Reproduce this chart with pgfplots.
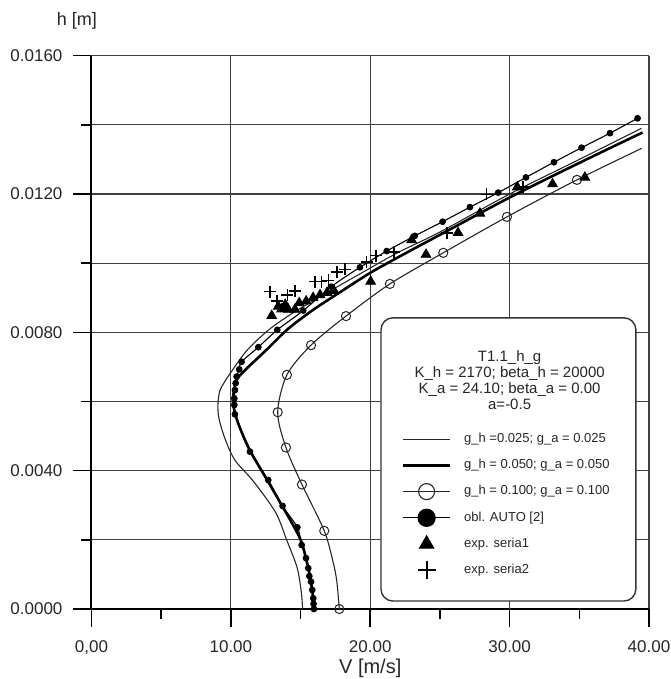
\documentclass[border=0pt]{standalone}
\usepackage{pgfplots}
\pgfplotsset{compat=1.18}
\usepackage{fontspec}
\setmainfont{Liberation Sans}
\begin{document}
\begin{tikzpicture}
\path[use as bounding box] (-45.75pt,-35pt) rectangle (289.25pt,304.5pt);
\begin{axis}[
 width=278.75pt, height=276.65pt, scale only axis,
 xmin=0, xmax=40, ymin=0, ymax=0.016,
 axis lines*=left, axis line style={line width=1pt, black},
 xtick={0,10,20,30,40}, minor xtick={5,15,25,35},
 ytick={0,0.004,0.008,0.012,0.016}, minor ytick={0.002,0.006,0.010,0.014},
 xticklabels={{0,00},{10.00},{20.00},{30.00},{40.00}},
 yticklabels={0.0000,0.0040,0.0080,0.0120,0.0160},
 scaled y ticks=false,
 tick align=outside, major tick length=9pt, minor tick length=5pt,
 tick style={black, line width=0.8pt},
 xmajorgrids, ymajorgrids, yminorgrids,
 major grid style={black!75, line width=0.6pt},
 minor grid style={black!75, line width=0.6pt},
 ticklabel style={font=\fontsize{8.5}{10}\selectfont, text=black!85},
 xticklabel style={yshift=-3.5pt},
 yticklabel style={xshift=-2pt},
 clip=false,
 legend image code/.code={\draw[mark repeat=2,mark phase=2,#1] plot coordinates {(0pt,0pt) (11.65pt,0pt) (23.3pt,0pt)};},
 legend style={at={(axis cs:22.25,0.0053)}, anchor=north west, draw=none, fill=none, inner sep=0pt,
   font=\fontsize{6.5}{7}\selectfont, text=black!85,
   nodes={inner sep=0pt, minimum height=13.1pt}, row sep=0pt,
   /tikz/every odd column/.append style={column sep=6.5pt}},
 legend cell align=left,
]
% g = 0.025 (thin)
\addplot[forget plot, black!85, line width=0.55pt, smooth] table {
15.15 0
15.05 0.0005
14.75 0.0012
14.0 0.0020
13.2 0.0028
11.6 0.0037
10.3 0.0043
9.6 0.0049
9.15 0.0055
9.07 0.0059
9.2 0.0063
9.6 0.0066
10.1 0.0069
11.2 0.0075
12.8 0.0081
14.6 0.0086
16.7 0.0091
19.3 0.0097
22.0 0.01031
25.0 0.0109
30.0 0.0120
35.0 0.0130
39.46 0.0139
};
% g = 0.050 (thick)
\addplot[forget plot, black, line width=1.3pt, smooth] table {
15.96 0
15.85 0.0005
15.6 0.0011
15.1 0.0019
14.5 0.0024
13.65 0.0030
12.65 0.0037
11.35 0.0046
10.5 0.0054
10.15 0.0060
10.4 0.0066
11.0 0.0069
12.57 0.0075
14.1 0.0081
15.9 0.00865
17.6 0.0091
20.0 0.00972
22.5 0.01028
25.0 0.01082
30.0 0.0119
35.0 0.0129
39.54 0.01378
};
% g = 0.100 line
\addplot[forget plot, black!85, line width=0.55pt, smooth] table {
17.78 0
17.6 0.0008
17.35 0.00133
16.70 0.00226
15.1 0.0036
13.95 0.00467
13.36 0.00569
14.02 0.00677
15.75 0.00763
18.26 0.00847
21.41 0.0094
25.24 0.0103
29.81 0.01134
34.83 0.01241
39.47 0.01332
};
% g = 0.100 markers
\addplot[forget plot, only marks, mark=o, mark size=2.3pt, mark options={fill=white, line width=0.5pt}, black!85] table {
17.78 0
16.70 0.00226
15.1 0.0036
13.95 0.00467
13.36 0.00569
14.02 0.00677
15.75 0.00763
18.26 0.00847
21.41 0.0094
25.24 0.0103
29.81 0.01134
34.83 0.01241
};
% obl. AUTO [2]
\addplot[forget plot, black, line width=0.55pt, smooth, mark=*, mark size=1.4pt] table {
15.96 0.00000
15.93 0.00015
15.91 0.00031
15.84 0.00055
15.75 0.00079
15.63 0.00095
15.55 0.00118
15.39 0.00147
15.08 0.00185
14.77 0.00236
13.71 0.00298
12.68 0.00373
11.37 0.00455
10.29 0.00563
10.25 0.00590
10.25 0.00609
10.29 0.00633
10.34 0.00653
10.41 0.00672
10.60 0.00693
10.77 0.00715
11.97 0.00757
13.33 0.00807
15.19 0.00863
17.2 0.00932
19.26 0.00988
21.18 0.01035
23.2 0.01079
25.19 0.01120
27.15 0.01162
29.18 0.01204
31.17 0.01248
33.18 0.01292
35.16 0.01334
37.2 0.01376
39.18 0.01419
};
% exp. seria1
\addplot[forget plot, only marks, mark=triangle*, mark size=2.8pt, black] table {
12.93 0.00848
13.64 0.00867
14.12 0.00866
14.6 0.00866
13.4 0.00875
13.9 0.0088
14.9 0.00885
15.4 0.0089
15.9 0.0090
16.4 0.00908
16.9 0.00915
17.4 0.0092
20.03 0.00947
22.97 0.01067
24.0 0.01025
26.3 0.01088
27.87 0.01144
30.55 0.0122
33.08 0.01229
35.4 0.01248
};
% exp. seria2
\addplot[forget plot, only marks, mark=+, mark size=3pt, mark options={line width=0.8pt}, black] table {
12.8 0.00918
13.3 0.0089
14.05 0.00908
14.6 0.0092
16.03 0.00947
16.5 0.00947
17.0 0.0095
17.63 0.00975
18.19 0.00982
19.74 0.01004
20.41 0.01022
21.7 0.01033
25.5 0.01088
28.35 0.01199
30.97 0.0122
};
% legend frame and title
\draw[black!80, line width=0.7pt, fill=white, rounded corners=6pt] (axis cs:20.77,0.00842) rectangle (axis cs:39.06,0.00023);
\node[align=center, font=\fontsize{7.5}{8}\selectfont, text=black!85] at (axis cs:30.0,0.00661) {T1.1\_h\_g\\K\_h = 2170; beta\_h = 20000\\K\_a = 24.10; beta\_a = 0.00\\a=-0.5};
\node[font=\fontsize{9}{10}\selectfont, text=black!85] at (rel axis cs:-0.026,1.063) {h [m]};
\node[font=\fontsize{10}{11}\selectfont, text=black!85] at (rel axis cs:0.5,-0.108) {V [m/s]};
% legend
\addlegendimage{black!85, line width=0.55pt}
\addlegendentry{g\_h =0.025; g\_a = 0.025}
\addlegendimage{black, line width=1.3pt}
\addlegendentry{g\_h = 0.050; g\_a = 0.050}
\addlegendimage{black!85, line width=0.55pt, mark=o, mark size=4pt, mark options={fill=white, line width=0.55pt}}
\addlegendentry{g\_h = 0.100; g\_a = 0.100}
\addlegendimage{black, line width=0.55pt, mark=*, mark size=4.3pt}
\addlegendentry{obl. AUTO [2]}
\addlegendimage{black, only marks, mark=triangle*, mark size=4.2pt}
\addlegendentry{exp. seria1}
\addlegendimage{black, only marks, mark=+, mark size=4.5pt, mark options={line width=1pt}}
\addlegendentry{exp. seria2}
\end{axis}
\end{tikzpicture}
\end{document}
